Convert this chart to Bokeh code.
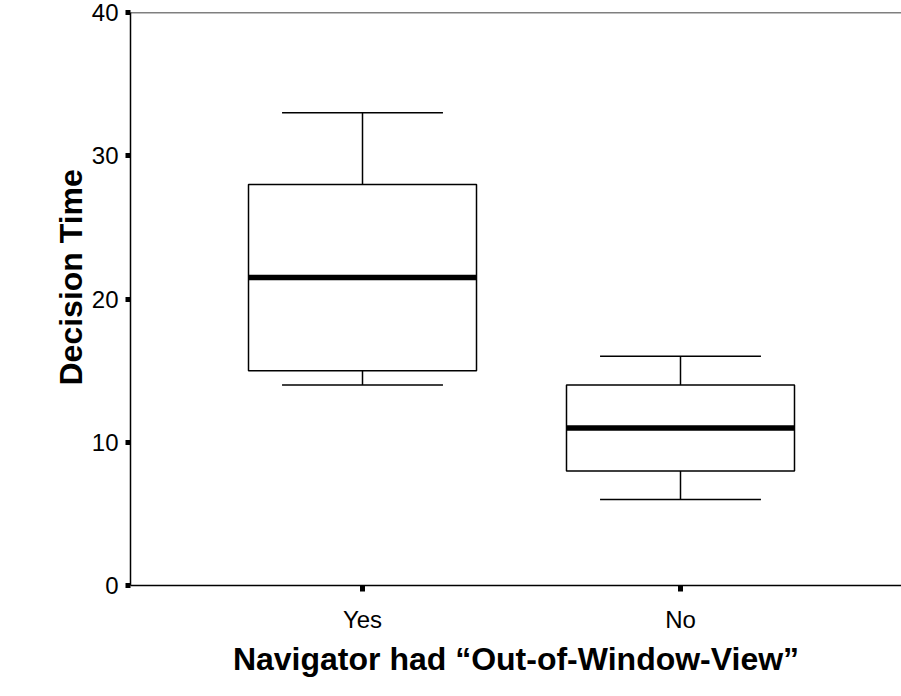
from bokeh.plotting import figure
from bokeh.models import ColumnDataSource, FixedTicker, Range1d, Span, Title, LinearAxis
from bokeh.embed import file_html
from bokeh.resources import INLINE

# Data
groups = ["Yes", "No"]
positions = [1, 2]
whisker_low = [14, 6]
q1 = [15, 8]
median = [21.5, 11]
q3 = [28, 14]
whisker_high = [33, 16]
y_ticks = [0, 10, 20, 30, 40]

box_w = 0.717
cap_w = 0.506

src = ColumnDataSource(dict(
    x=positions,
    left=[p - box_w / 2 for p in positions],
    right=[p + box_w / 2 for p in positions],
    cl=[p - cap_w / 2 for p in positions],
    cr=[p + cap_w / 2 for p in positions],
    lo=whisker_low, q1=q1, med=median, q3=q3, hi=whisker_high,
))

FONT = "Liberation Sans"

p = figure(width=901, height=696, output_backend="svg", toolbar_location=None,
           x_range=Range1d(0.2704, 2.695), y_range=Range1d(0, 40),
           min_border_left=130, min_border_right=0, min_border_top=12, min_border_bottom=111)
p.outline_line_color = None
p.xgrid.visible = False
p.ygrid.visible = False
p.background_fill_color = "white"
p.border_fill_color = "white"

# whiskers
p.segment(x0="x", y0="q3", x1="x", y1="hi", source=src, line_color="black", line_width=1.5)
p.segment(x0="x", y0="lo", x1="x", y1="q1", source=src, line_color="black", line_width=1.5)
p.segment(x0="cl", y0="hi", x1="cr", y1="hi", source=src, line_color="black", line_width=1.5)
p.segment(x0="cl", y0="lo", x1="cr", y1="lo", source=src, line_color="black", line_width=1.5)
# boxes
p.quad(left="left", right="right", bottom="q1", top="q3", source=src,
       fill_color="white", line_color="black", line_width=1.5)
# medians
p.segment(x0="left", y0="med", x1="right", y1="med", source=src, line_color="black", line_width=5.5)

p.add_layout(Span(location=40, dimension="width", line_color="black", line_width=1.5))

p.xaxis.ticker = FixedTicker(ticks=positions)
p.xaxis.major_label_overrides = {pos: g for pos, g in zip(positions, groups)}
p.yaxis.ticker = FixedTicker(ticks=y_ticks)

for ax in (p.xaxis[0], p.yaxis[0]):
    ax.axis_line_color = "black"
    ax.axis_line_width = 1.5
    ax.major_tick_in = 0
    ax.major_tick_out = 6
    ax.major_tick_line_width = 5
    ax.major_tick_line_cap = "butt"
    ax.minor_tick_line_color = None
    ax.major_label_text_font = FONT
    ax.major_label_text_font_size = "24px"
    ax.major_label_text_color = "black"
    ax.axis_label_text_font = FONT
    ax.axis_label_text_font_style = "bold"
    ax.axis_label_text_font_size = "32px"
    ax.axis_label_text_color = "black"

p.yaxis.major_tick_out = 5
p.yaxis.major_label_standoff = 7
p.xaxis.major_label_standoff = 14
p.xaxis.axis_label = "Navigator had \u201cOut-of-Window-View\u201d"
p.xaxis.axis_label_standoff = 5

# invisible spacer between the y axis and its title (no ticks, white tick style only reserves room)
spacer = LinearAxis(ticker=FixedTicker(ticks=[]), axis_line_color=None,
                    major_tick_line_color="white", minor_tick_line_color=None,
                    major_tick_in=0, major_tick_out=49, major_label_standoff=0)
p.add_layout(spacer, "left")

# y-axis title, slightly above the frame centre, as in the reference
p.add_layout(Title(text="Decision Time", align="left", offset=200, standoff=0,
                   text_font=FONT, text_font_style="bold", text_font_size="32px",
                   text_color="black"), "left")

open("out.html", "w").write(file_html(p, INLINE))
